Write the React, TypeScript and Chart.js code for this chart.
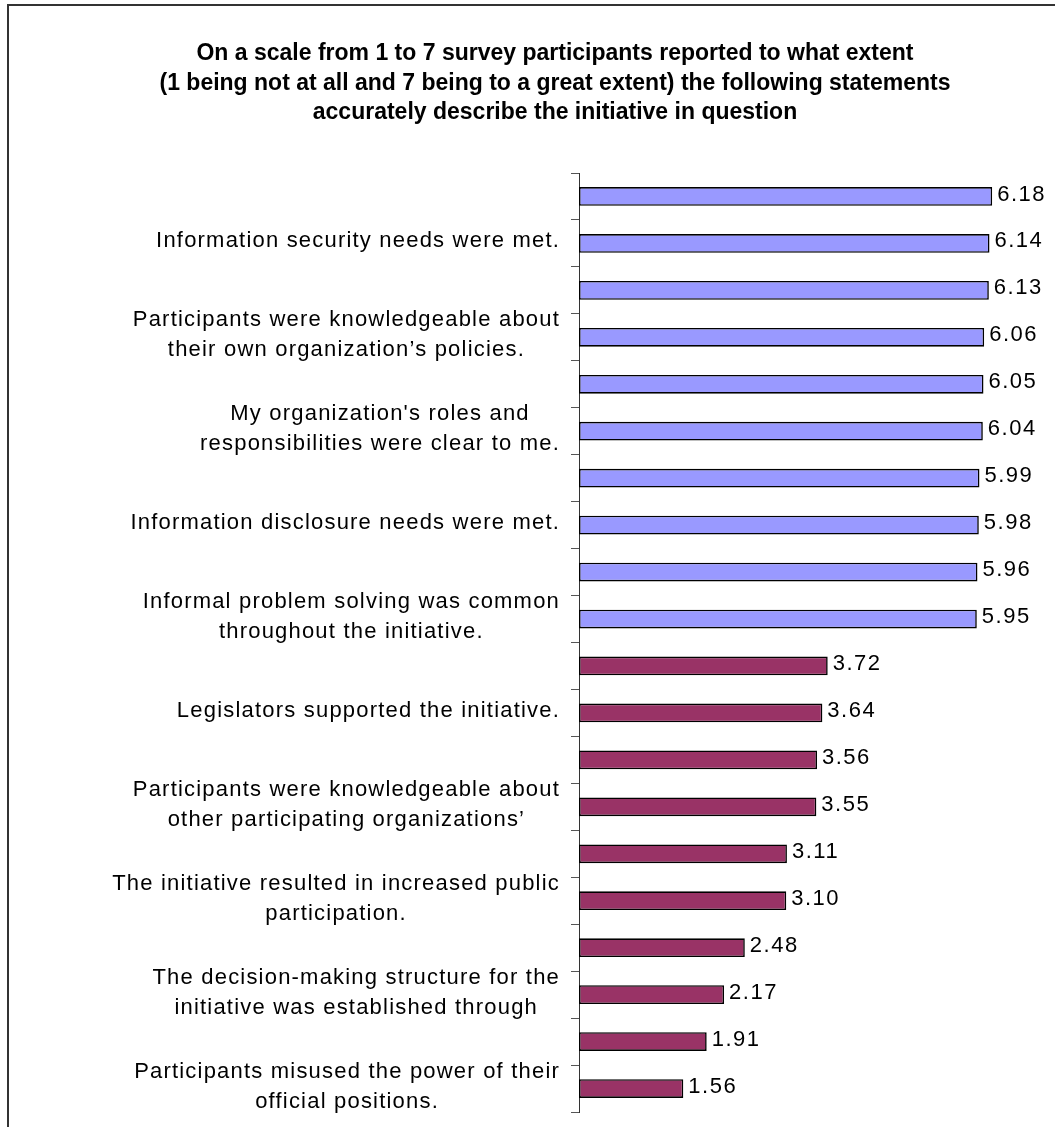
import React, { useEffect, useRef } from 'react';
import { Chart, registerables, CategoryScale } from 'chart.js';

Chart.register(...registerables);

// ---- data ----
const titleLines = [
  'On a scale from 1 to 7 survey participants reported to what extent',
  '(1 being not at all and 7 being to a great extent) the following statements',
  'accurately describe the initiative in question',
];

const tickLabels: (string | string[])[] = [
  '',
  'Information security needs were met.',
  '',
  ['Participants were knowledgeable about', 'their own organization\u2019s policies.'],
  '',
  ["My organization's roles and", 'responsibilities were clear to me.'],
  '',
  'Information disclosure needs were met.',
  '',
  ['Informal problem solving was common', 'throughout the initiative.'],
  '',
  'Legislators supported the initiative.',
  '',
  ['Participants were knowledgeable about', 'other participating organizations\u2019'],
  '',
  ['The initiative resulted in increased public', 'participation.'],
  '',
  ['The decision-making structure for the', 'initiative was established through'],
  '',
  ['Participants misused the power of their', 'official positions.'],
];

const values = [
  6.18, 6.14, 6.13, 6.06, 6.05, 6.04, 5.99, 5.98, 5.96, 5.95,
  3.72, 3.64, 3.56, 3.55, 3.11, 3.10, 2.48, 2.17, 1.91, 1.56,
];

const groups = [
  'high', 'high', 'high', 'high', 'high', 'high', 'high', 'high', 'high', 'high',
  'low', 'low', 'low', 'low', 'low', 'low', 'low', 'low', 'low', 'low',
];

const groupColors: Record<string, string> = { high: '#9999FF', low: '#993366' };

const FONT_FAMILY = '"Liberation Sans", Arial, Helvetica, sans-serif';
const LABEL_SPACING = '1.2px';
const VALUE_SPACING = '1.5px';
const LABEL_SHIFT = -2;

class SpacedCategoryScale extends (CategoryScale as any) {
  static id = 'spacedCategory';

  _computeLabelItems(chartArea: any) {
    const items = super._computeLabelItems(chartArea);
    const ctx = this.ctx as CanvasRenderingContext2D;
    ctx.save();
    (ctx as any).letterSpacing = LABEL_SPACING;
    for (const item of items) {
      ctx.font = item.font.string;
      const lines = Array.isArray(item.label) ? item.label : [item.label];
      let w = 0;
      for (const l of lines) w = Math.max(w, ctx.measureText(String(l)).width);
      const [x, y] = item.options.translation;
      item.options = {
        ...item.options,
        textAlign: 'center',
        translation: [x - w / 2, y + LABEL_SHIFT],
      };
    }
    ctx.restore();
    return items;
  }

  drawLabels(chartArea: any) {
    const ctx = this.ctx as CanvasRenderingContext2D;
    ctx.save();
    (ctx as any).letterSpacing = LABEL_SPACING;
    super.drawLabels(chartArea);
    ctx.restore();
  }
}

Chart.register(SpacedCategoryScale as any);

const valueLabelPlugin = {
  id: 'valueLabels',
  afterDatasetsDraw(chart: any) {
    const ctx = chart.ctx as CanvasRenderingContext2D;
    const meta = chart.getDatasetMeta(0);
    ctx.save();
    (ctx as any).letterSpacing = VALUE_SPACING;
    ctx.font = `22px ${FONT_FAMILY}`;
    ctx.fillStyle = '#000';
    ctx.textAlign = 'left';
    ctx.textBaseline = 'middle';
    meta.data.forEach((bar: any, i: number) => {
      const v = chart.data.datasets[0].data[i] as number;
      ctx.fillText(v.toFixed(2), bar.x + 5, bar.y - 2);
    });
    ctx.restore();
  },
};

export default function App() {
  const canvasRef = useRef<HTMLCanvasElement | null>(null);

  useEffect(() => {
    if (!canvasRef.current) return;
    const chart = new Chart(canvasRef.current, {
      type: 'bar',
      data: {
        labels: tickLabels as any,
        datasets: [
          {
            data: values,
            backgroundColor: groups.map((g) => groupColors[g]),
            borderColor: '#000000',
            borderWidth: 1.6,
            borderSkipped: false,
            barPercentage: 0.4,
            categoryPercentage: 1,
          },
        ],
      },
      options: {
        indexAxis: 'y',
        animation: false,
        responsive: false,
        devicePixelRatio: 1,
        layout: { padding: { left: 63, right: 8, top: 0, bottom: 15 } },
        plugins: {
          legend: { display: false },
          tooltip: { enabled: false },
          title: {
            display: true,
            text: titleLines,
            color: '#000000',
            font: { family: FONT_FAMILY, size: 23, weight: 'bold', lineHeight: '29.5px' },
            padding: { top: 39.25, bottom: 45.25 },
          },
        },
        scales: {
          x: {
            type: 'linear',
            display: false,
            min: 0,
            max: 7,
          },
          y: {
            type: 'spacedCategory' as any,
            offset: true,
            grid: {
              display: true,
              offset: true,
              drawOnChartArea: false,
              drawTicks: true,
              tickLength: 8,
              color: '#555555',
              lineWidth: 1,
            },
            border: { display: true, color: '#333333', width: 1 },
            ticks: {
              autoSkip: false,
              padding: 11,
              color: '#000000',
              font: { family: FONT_FAMILY, size: 22, lineHeight: '30px' },
            },
            afterFit: (scale: any) => {
              scale.width = 579 - 63;
              scale.paddingTop = 0;
              scale.paddingBottom = 0;
            },
          } as any,
        },
      },
      plugins: [valueLabelPlugin],
    });
    return () => chart.destroy();
  }, []);

  return (
    <div
      style={{
        position: 'absolute',
        left: 0,
        top: 0,
        width: 1055,
        height: 1127,
        overflow: 'hidden',
        background: '#ffffff',
      }}
    >
      <canvas
        ref={canvasRef}
        width={1055}
        height={1127}
        style={{ position: 'absolute', left: 0, top: 0, width: 1055, height: 1127 }}
      />
      <div
        style={{
          position: 'absolute',
          left: 7,
          top: 4,
          width: 1100,
          height: 1200,
          borderTop: '2px solid #333333',
          borderLeft: '2px solid #333333',
          pointerEvents: 'none',
        }}
      />
    </div>
  );
}
